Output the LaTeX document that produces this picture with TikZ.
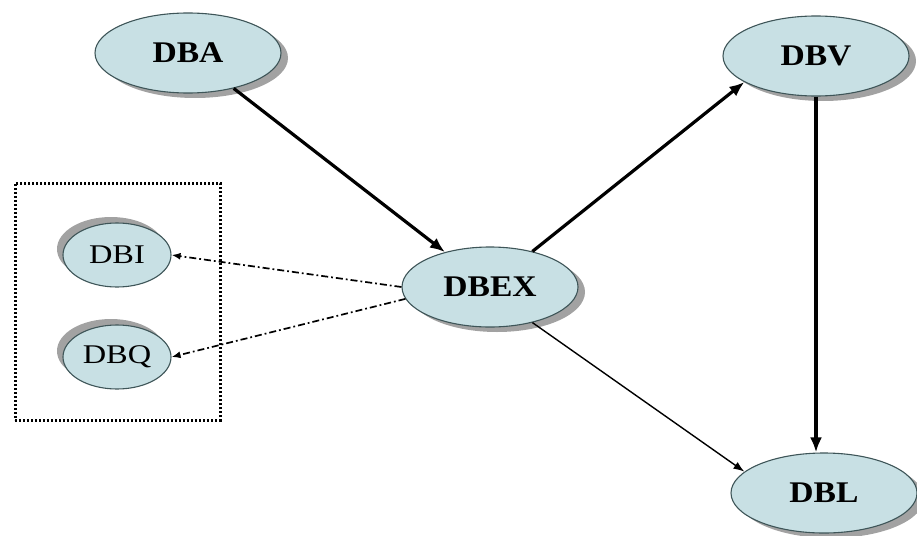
\documentclass[tikz,border=0pt]{standalone}
\usepackage{fontspec}
\usetikzlibrary{arrows.meta,shapes.geometric,shadows}
\newfontfamily\lblfont{Liberation Serif}[FakeStretch=1.12]
\newfontfamily\smlfont{Liberation Serif}[FakeStretch=1.2]
\definecolor{dbfill}{HTML}{C8E0E4}
\definecolor{dbedge}{HTML}{3E5558}
\definecolor{dbshade}{HTML}{A2A2A2}
\tikzset{
  dbnode/.style={ellipse, draw=dbedge, line width=1.1pt, fill=dbfill, inner sep=0pt,
    font=\lblfont\fontsize{30}{32}\selectfont\bfseries},
  bigdb/.style={dbnode, minimum width=186pt, minimum height=80pt,
    drop shadow={shadow xshift=7pt, shadow yshift=-5pt, fill=dbshade, opacity=1}},
  smalldb/.style={dbnode, minimum width=108pt, minimum height=64pt,
    font=\smlfont\fontsize{27}{29}\selectfont,
    drop shadow={shadow xshift=-6pt, shadow yshift=6pt, fill=dbshade, opacity=1}},
  heavy/.style={line width=3.2pt, -{Latex[length=15pt,width=12pt]}},
  light/.style={line width=1.4pt, -{Latex[length=11pt,width=8pt]}},
  dashdot/.style={line width=1.7pt, dash pattern=on 7pt off 3pt on 1.8pt off 3pt,
    -{Latex[length=9pt,width=7pt]}},
  groupbox/.style={draw, line width=3pt, dash pattern=on 2.4pt off 1.6pt,
    minimum width=205pt, minimum height=237pt, inner sep=0pt}
}
\begin{document}
\begin{tikzpicture}[x=1pt, y=-1pt]
  \useasboundingbox (0,0) rectangle (917,535);

  % group frame around the two secondary stores
  \node[groupbox] (grp) at (117.5,301.5) {};

  % database nodes
  \node[bigdb] (dba)  at (188,53)  {DBA};
  \node[bigdb] (dbv)  at (816,56)  {DBV};
  \node[bigdb, minimum width=176pt] (dbex) at (490,287) {DBEX};
  \node[bigdb] (dbl)  at (824,493) {DBL};
  \node[smalldb] (dbi) at (117,255) {DBI};
  \node[smalldb] (dbq) at (117,357) {DBQ};

  % connectors
  \draw[heavy] (dba) -- (dbex);
  \draw[heavy] (dbex.40) -- (dbv.200);
  \draw[heavy] (dbv.south) -- (dbv.south |- dbl.north);
  \draw[light] (dbex.-40) -- (dbl.165);
  \draw[dashdot] (dbex.west) -- (dbi.east);
  \draw[dashdot] (dbex.188) -- (dbq.east);
\end{tikzpicture}
\end{document}
